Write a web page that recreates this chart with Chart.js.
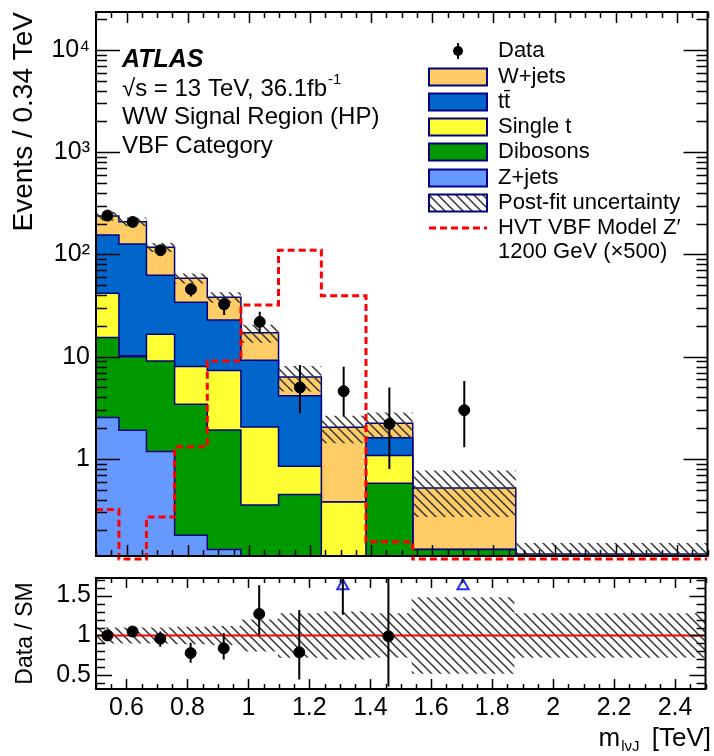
<!DOCTYPE html>
<html>
<head>
<meta charset="utf-8">
<script src="https://cdn.jsdelivr.net/npm/chart.js@4.4.1/dist/chart.umd.min.js"></script>
<style>
body { margin: 0; background: #fff; }
#wrap { position: relative; width: 714px; height: 756px; }
canvas { position: absolute; left: 0; }
</style>
</head>
<body>
<div id="wrap">
  <canvas id="main" width="714" height="566" style="top:0px"></canvas>
  <canvas id="ratio" width="714" height="190" style="top:566px"></canvas>
</div>
<script>
/* data */

var binEdges  = [0.5, 0.575, 0.665, 0.757, 0.864, 0.974, 1.097, 1.237, 1.383, 1.536, 1.873, 2.5];
var zJets     = [2.54, 1.91, 1.18, 0.18, 0.13, 0, 0, 0, 0, 0, 0];
var dibosons  = [12.9, 8.1, 7.9, 3.25, 1.79, 0.355, 0.45, 0.05, 0.58, 0.13, 0];
var singleTop = [26.3, 0.2, 7.5, 4.6, 5.4, 1.7, 0.4, 0.33, 0.5, 0, 0];
var ttbar     = [113, 116, 46, 26, 15.6, 7.2, 3.3, 0, 0.53, 0, 0];
var wJets     = [83, 83, 55, 24.5, 15.3, 7.9, 2.2, 1.66, 0.62, 0.39, 0.118];
var bkgUnc    = [0.1, 0.1, 0.1, 0.11, 0.12, 0.2, 0.28, 0.3, 0.28, 0.48, 0.28];
var signal    = [0.32, 0.105, 0.27, 1.32, 9.1, 32, 110, 39.5, 0.155, 0.105, 0.105];

var dataVals  = [240, 208, 110, 45.7, 32.6, 21.9, 5.0, 4.6, 2.2, 3.0, null];
var dataErrLo = [15, 14, 10, 7, 7, 5, 2.2, 2.0, 1.4, 1.7, 0];
var dataErrHi = [16, 15, 11, 6.6, 4.6, 5.6, 3.3, 3.4, 2.8, 2.8, 0];

var ratioVals  = [1.0, 1.05, 0.96, 0.78, 0.84, 1.27, 0.79, 2.26, 0.99, 5.8, null];
var ratioErrLo = [0.06, 0.06, 0.1, 0.12, 0.14, 0.27, 0.34, 1.0, 0.63, 3.3, 0];
var ratioErrHi = [0.06, 0.06, 0.09, 0.13, 0.19, 0.36, 0.53, 1.6, 1.3, 5.4, 0];

var yTickValues = [1, 10, 100, 1000, 10000];
var yTickLabels = ['1', '10', '10\u00b2', '10\u00b3', '10\u2074'];
var xTickValues = [0.6, 0.8, 1.0, 1.2, 1.4, 1.6, 1.8, 2.0, 2.2, 2.4];
var xTickLabels = ['0.6', '0.8', '1', '1.2', '1.4', '1.6', '1.8', '2', '2.2', '2.4'];
var rTickValues = [0.5, 1, 1.5];
var rTickLabels = ['0.5', '1', '1.5'];

var legendLabels = ['Data', 'W+jets', 't\u0074\u0304', 'Single t', 'Dibosons', 'Z+jets',
                    'Post-fit uncertainty', 'HVT VBF Model Z\u2032', '1200 GeV (\u00d7500)'];

var yMin = 0.1125, yMax = 23500;
var rMin = 0.33, rMax = 1.72;

/* colours */
var colW = '#ffcc66', colT = '#0066cc', colS = '#ffff33', colD = '#009900', colZ = '#6699ff';
var navy = '#000080';
var FONT = "'Liberation Sans', Arial, sans-serif";

Chart.defaults.font.family = FONT;
Chart.defaults.color = '#000';

/* helpers */

var binCenters = [];
for (var i = 0; i < binEdges.length - 1; i++) {
  binCenters.push((binEdges[i] + binEdges[i + 1]) / 2);
}

function hist(values) {
  var pts = [];
  for (var i = 0; i < values.length; i++) {
    pts.push({x: binEdges[i], y: values[i]});
  }
  pts.push({x: binEdges[binEdges.length - 1], y: values[values.length - 1]});
  return pts;
}

function floorLog(v) { return Math.max(v, 1e-3); }

function noPad(scale) {
  scale.paddingTop = 0;
  scale.paddingBottom = 0;
  scale.paddingLeft = 0;
  scale.paddingRight = 0;
}

var stack = [zJets, dibosons, singleTop, ttbar, wJets];
var cum = [];
var run = zJets.map(function() { return 0; });
for (var s = 0; s < stack.length; s++) {
  run = run.map(function(v, i) { return v + stack[s][i]; });
  cum.push(run.map(floorLog));
}
var total = cum[cum.length - 1];

function makeHatch(ctx) {
  var c = document.createElement('canvas');
  c.width = 9; c.height = 9;
  var g = c.getContext('2d');
  g.strokeStyle = '#333';
  g.lineWidth = 1.5;
  g.beginPath();
  g.moveTo(-1, -1); g.lineTo(10, 10);
  g.moveTo(-1, 8); g.lineTo(1, 10);
  g.moveTo(8, -1); g.lineTo(10, 1);
  g.stroke();
  return ctx.createPattern(c, 'repeat');
}

/* plugins */

function insideTicks(cfg) {
  return {
    id: 'insideTicks',
    afterDraw: function(chart) {
      var ctx = chart.ctx, a = chart.chartArea;
      var xs = chart.scales.x, ys = chart.scales.y;
      ctx.save();
      ctx.strokeStyle = '#000';
      ctx.lineWidth = 1.5;
      ctx.beginPath();
      // x ticks every 0.05, major every 0.2
      for (var k = 0; k <= 40; k++) {
        var v = 0.5 + k * 0.05;
        var major = Math.abs(v / 0.2 - Math.round(v / 0.2)) < 1e-6;
        var len = major ? cfg.xMajor : cfg.xMinor;
        var px = Math.round(xs.getPixelForValue(v)) + 0.5;
        ctx.moveTo(px, a.bottom); ctx.lineTo(px, a.bottom - len);
        if (cfg.top) { ctx.moveTo(px, a.top); ctx.lineTo(px, a.top + len); }
      }
      // y ticks
      var yt = [];
      if (cfg.log) {
        for (var d = -1; d <= 4; d++) {
          for (var m = 1; m <= 9; m++) {
            yt.push({v: m * Math.pow(10, d), major: m === 1});
          }
        }
      } else {
        for (var q = 3; q <= 17; q++) {
          yt.push({v: q / 10, major: q % 5 === 0});
        }
      }
      yt.forEach(function(t) {
        if (t.v < ys.min || t.v > ys.max) return;
        var py = Math.round(ys.getPixelForValue(t.v)) + 0.5;
        var len = t.major ? cfg.yMajor : cfg.yMinor;
        ctx.moveTo(a.left, py); ctx.lineTo(a.left + len, py);
        ctx.moveTo(a.right, py); ctx.lineTo(a.right - len, py);
      });
      ctx.stroke();
      ctx.lineWidth = 2;
      ctx.strokeRect(a.left, a.top, a.right - a.left, a.bottom - a.top);
      ctx.restore();
    }
  };
}

var errorBars = {
  id: 'errorBars',
  afterDatasetsDraw: function(chart, args, opts) {
    var ctx = chart.ctx, a = chart.chartArea;
    var xs = chart.scales.x, ys = chart.scales.y;
    ctx.save();
    ctx.beginPath();
    ctx.rect(a.left, a.top, a.right - a.left, a.bottom - a.top);
    ctx.clip();
    ctx.strokeStyle = '#000';
    ctx.lineWidth = 2;
    opts.vals.forEach(function(v, i) {
      if (v == null) return;
      var px = xs.getPixelForValue(binCenters[i]);
      ctx.beginPath();
      ctx.moveTo(px, ys.getPixelForValue(v - opts.lo[i]));
      ctx.lineTo(px, ys.getPixelForValue(v + opts.hi[i]));
      ctx.stroke();
    });
    ctx.restore();
  }
};

var mainText = {
  id: 'mainText',
  afterDraw: function(chart) {
    var ctx = chart.ctx;
    ctx.save();
    ctx.fillStyle = '#000';
    ctx.textAlign = 'left';
    ctx.textBaseline = 'middle';

    ctx.font = 'italic bold 25px ' + FONT;
    ctx.fillText('ATLAS', 122, 60);
    ctx.font = '24px ' + FONT;
    var s1 = '\u221as = 13 TeV, 36.1fb';
    ctx.fillText(s1, 122, 89);
    var w1 = ctx.measureText(s1).width;
    ctx.font = '15px ' + FONT;
    ctx.fillText('-1', 122 + w1 + 1, 80);
    ctx.font = '24px ' + FONT;
    ctx.fillText('WW Signal Region (HP)', 122, 117);
    ctx.fillText('VBF Category', 122, 146);

    /* legend */
    var lx = 429, lw = 58, lh = 17, tx = 498;
    var rows = [51, 77, 102, 127, 152, 178, 203, 228, 252];
    var fills = [null, colW, colT, colS, colD, colZ, 'hatch'];
    ctx.font = '22px ' + FONT;
    for (var i = 0; i < legendLabels.length; i++) {
      var y = rows[i];
      ctx.fillStyle = '#000';
      ctx.fillText(legendLabels[i], tx, y);
      if (i === 0) {
        ctx.strokeStyle = '#000';
        ctx.lineWidth = 2;
        ctx.beginPath(); ctx.moveTo(lx + lw / 2, y - 8); ctx.lineTo(lx + lw / 2, y + 8); ctx.stroke();
        ctx.beginPath(); ctx.arc(lx + lw / 2, y, 5, 0, Math.PI * 2); ctx.fill();
      } else if (i <= 6) {
        ctx.fillStyle = fills[i] === 'hatch' ? hatchMain : fills[i];
        ctx.fillRect(lx, y - lh / 2, lw, lh);
        ctx.strokeStyle = navy;
        ctx.lineWidth = 2;
        ctx.strokeRect(lx, y - lh / 2, lw, lh);
      } else if (i === 7) {
        ctx.strokeStyle = '#ff0000';
        ctx.lineWidth = 3;
        ctx.setLineDash([7, 4]);
        ctx.beginPath(); ctx.moveTo(lx, y); ctx.lineTo(lx + lw, y); ctx.stroke();
        ctx.setLineDash([]);
      }
    }
    ctx.restore();
  }
};

var ratioText = {
  id: 'ratioText',
  afterDraw: function(chart) {
    var ctx = chart.ctx;
    ctx.save();
    ctx.fillStyle = '#000';
    ctx.textBaseline = 'alphabetic';
    ctx.textAlign = 'left';
    ctx.font = '26px ' + FONT;
    var tail = ' [TeV]';
    var wTail = ctx.measureText(tail).width;
    var wm = ctx.measureText('m').width;
    ctx.font = '15px ' + FONT;
    var sub = 'l\u03bdJ';
    var wSub = ctx.measureText(sub).width;
    var right = 711, base = 180;
    var x0 = right - wTail - wSub - wm - 6;
    ctx.font = '26px ' + FONT;
    ctx.fillText('m', x0, base);
    ctx.font = '15px ' + FONT;
    ctx.fillText(sub, x0 + wm + 1, base + 5);
    ctx.font = '26px ' + FONT;
    ctx.fillText(tail, x0 + wm + wSub + 6, base);
    ctx.restore();
  }
};

/* main chart */

var ctxMain = document.getElementById('main').getContext('2d');
var hatchMain = makeHatch(ctxMain);

var stackLabels = ['Z+jets', 'Dibosons', 'Single t', 'tt', 'W+jets'];
var stackColors = [colZ, colD, colS, colT, colW];

var mainSets = [
  {
    label: 'Data',
    data: binCenters.map(function(c, i) { return {x: c, y: dataVals[i]}; }),
    showLine: false,
    pointRadius: 5.5,
    pointBackgroundColor: '#000',
    pointBorderColor: '#000'
  },
  {
    label: 'HVT VBF Model Z\u2032 1200 GeV (\u00d7500)',
    data: hist(signal),
    stepped: true,
    borderColor: '#ff0000',
    borderWidth: 3,
    borderDash: [7, 4],
    fill: false,
    pointRadius: 0,
    clip: {left: 0, top: 0, right: 0, bottom: 5}
  },
  {
    label: 'unc low',
    data: hist(total.map(function(v, i) { return v * (1 - bkgUnc[i]); })),
    stepped: true,
    borderColor: 'rgba(0,0,0,0)',
    backgroundColor: hatchMain,
    fill: '+1',
    pointRadius: 0
  },
  {
    label: 'unc high',
    data: hist(total.map(function(v, i) { return v * (1 + bkgUnc[i]); })),
    stepped: true,
    borderColor: 'rgba(0,0,0,0)',
    fill: false,
    pointRadius: 0
  }
];

for (var k = 0; k < cum.length; k++) {
  mainSets.push({
    label: stackLabels[k],
    data: hist(cum[k]),
    stepped: true,
    borderColor: navy,
    borderWidth: 1.5,
    backgroundColor: stackColors[k],
    fill: 'start',
    pointRadius: 0
  });
}

var mainChart = new Chart(ctxMain, {
  type: 'line',
  data: { datasets: mainSets },
  options: {
    responsive: false,
    animation: false,
    devicePixelRatio: 1,
    layout: { padding: { top: 12, right: 2, bottom: 10, left: 0 } },
    plugins: {
      legend: { display: false },
      tooltip: { enabled: false },
      errorBars: { vals: dataVals, lo: dataErrLo, hi: dataErrHi }
    },
    scales: {
      x: { type: 'linear', min: 0.5, max: 2.5, display: false, afterFit: noPad },
      y: {
        type: 'logarithmic',
        min: yMin,
        max: yMax,
        afterFit: function(scale) { scale.width = 96; noPad(scale); },
        afterBuildTicks: function(scale) {
          scale.ticks = yTickValues.map(function(v) { return {value: v}; });
        },
        ticks: {
          autoSkip: false,
          padding: 6,
          font: { size: 25 },
          callback: function(v) { return yTickLabels[yTickValues.indexOf(v)]; }
        },
        grid: { display: false, drawTicks: false },
        border: { display: false },
        title: {
          display: true,
          text: 'Events / 0.34 TeV',
          align: 'end',
          font: { size: 28 },
          padding: { top: 7, bottom: 0 }
        }
      }
    }
  },
  plugins: [errorBars, insideTicks({top: true, log: true, xMajor: 11, xMinor: 6, yMajor: 24, yMinor: 11}), mainText]
});

/* ratio chart */

var ctxRatio = document.getElementById('ratio').getContext('2d');
var hatchRatio = makeHatch(ctxRatio);

var overX = [];
binCenters.forEach(function(c, i) {
  if (ratioVals[i] != null && ratioVals[i] > rMax) overX.push({x: c, y: 1.62});
});

var ratioChart = new Chart(ctxRatio, {
  type: 'line',
  data: {
    datasets: [
      {
        label: 'Data / SM',
        data: binCenters.map(function(c, i) {
          var v = ratioVals[i];
          return {x: c, y: (v != null && v <= rMax) ? v : null};
        }),
        showLine: false,
        pointRadius: 5.5,
        pointBackgroundColor: '#000',
        pointBorderColor: '#000'
      },
      {
        label: 'overflow',
        data: overX,
        showLine: false,
        pointStyle: 'triangle',
        pointRadius: 6.5,
        pointBorderWidth: 2,
        pointBackgroundColor: '#fff',
        pointBorderColor: '#2233ee'
      },
      {
        label: 'SM',
        data: [{x: 0.5, y: 1}, {x: 2.5, y: 1}],
        borderColor: '#ff0000',
        borderWidth: 2,
        pointRadius: 0,
        fill: false
      },
      {
        label: 'unc low',
        data: hist(bkgUnc.map(function(e) { return 1 - e; })),
        stepped: true,
        borderColor: 'rgba(0,0,0,0)',
        backgroundColor: hatchRatio,
        fill: '+1',
        pointRadius: 0
      },
      {
        label: 'unc high',
        data: hist(bkgUnc.map(function(e) { return 1 + e; })),
        stepped: true,
        borderColor: 'rgba(0,0,0,0)',
        fill: false,
        pointRadius: 0
      }
    ]
  },
  options: {
    responsive: false,
    animation: false,
    devicePixelRatio: 1,
    layout: { padding: { top: 12, right: 2, bottom: 0, left: 0 } },
    plugins: {
      legend: { display: false },
      tooltip: { enabled: false },
      errorBars: { vals: ratioVals, lo: ratioErrLo, hi: ratioErrHi }
    },
    scales: {
      x: {
        type: 'linear',
        min: 0.5,
        max: 2.5,
        afterFit: function(scale) { scale.height = 67; noPad(scale); },
        afterBuildTicks: function(scale) {
          scale.ticks = xTickValues.map(function(v) { return {value: v}; });
        },
        ticks: {
          autoSkip: false,
          maxRotation: 0,
          padding: 4,
          font: { size: 25 },
          callback: function(v) { return xTickLabels[xTickValues.indexOf(v)]; }
        },
        grid: { display: false, drawTicks: false },
        border: { display: false }
      },
      y: {
        min: rMin,
        max: rMax,
        afterFit: function(scale) { scale.width = 96; noPad(scale); },
        afterBuildTicks: function(scale) {
          scale.ticks = rTickValues.map(function(v) { return {value: v}; });
        },
        ticks: {
          autoSkip: false,
          padding: 5,
          font: { size: 25 },
          callback: function(v) { return rTickLabels[rTickValues.indexOf(v)]; }
        },
        grid: { display: false, drawTicks: false },
        border: { display: false },
        title: {
          display: true,
          text: 'Data / SM',
          font: { size: 23 },
          padding: { top: 12, bottom: 0 }
        }
      }
    }
  },
  plugins: [errorBars, insideTicks({top: true, log: false, xMajor: 10, xMinor: 5, yMajor: 16, yMinor: 9}), ratioText]
});
</script>
</body>
</html>
